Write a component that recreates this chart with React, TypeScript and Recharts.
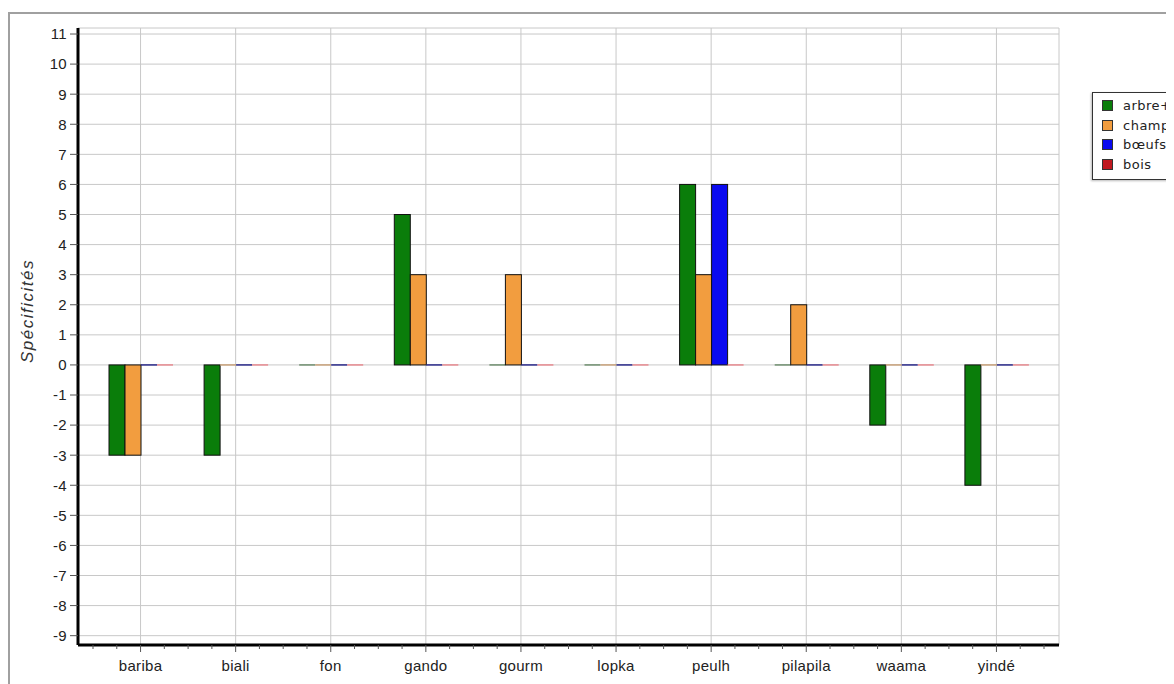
import React from 'react';
import { BarChart, Bar, XAxis, YAxis, CartesianGrid, Legend } from 'recharts';

const categories = ['bariba', 'biali', 'fon', 'gando', 'gourm', 'lopka', 'peulh', 'pilapila', 'waama', 'yindé'];
const arbre = [-3, -3, 0, 5, 0, 0, 6, 0, -2, -4];
const champ = [-3, 0, 0, 3, 3, 0, 3, 2, 0, 0];
const boeufs = [0, 0, 0, 0, 0, 0, 6, 0, 0, 0];
const bois = [0, 0, 0, 0, 0, 0, 0, 0, 0, 0];
const yTicks = [-9, -8, -7, -6, -5, -4, -3, -2, -1, 0, 1, 2, 3, 4, 5, 6, 7, 8, 9, 10, 11];

const series = [
  { key: 'arbre', name: 'arbre+', color: '#0a7d0a', zero: '#6f8f6f', values: arbre },
  { key: 'champ', name: 'champ-', color: '#f29d3f', zero: '#c9a27a', values: champ },
  { key: 'boeufs', name: 'bœufs', color: '#0a0af0', zero: '#2a2a8a', values: boeufs },
  { key: 'bois', name: 'bois', color: '#c0181f', zero: '#e88a90', values: bois },
];

const data = categories.map((c, i) => {
  const row: any = { name: c };
  series.forEach((s) => { row[s.key] = s.values[i]; });
  return row;
});

const makeShape = (color: string, zero: string) => (props: any) => {
  let { x, y, width, height } = props;
  if (!height || Math.abs(height) < 0.5) {
    return <line x1={x} x2={x + width} y1={y} y2={y} stroke={zero} strokeWidth={1.5} />;
  }
  if (height < 0) { y = y + height; height = -height; }
  return <rect x={x} y={y} width={width} height={height} fill={color} stroke="#111" strokeWidth={1} />;
};

const LegendContent = () => (
  <div style={{ border: '1px solid #333', background: '#fff', padding: '3px 0 5px 9px', width: 120, boxShadow: '-1px 1px 2px #bbb' }}>
    {series.map((s) => (
      <div key={s.key} style={{ display: 'flex', alignItems: 'center', height: 19.5 }}>
        <span style={{ display: 'inline-block', width: 9, height: 9, background: s.color, border: '1px solid #333', marginRight: 10 }} />
        <span style={{ fontFamily: '"DejaVu Sans", sans-serif', fontSize: 13, color: '#222', letterSpacing: 0.5, whiteSpace: 'nowrap' }}>{s.name}</span>
      </div>
    ))}
  </div>
);

const YLabel = (props: any) => {
  const vb = props.viewBox || {};
  const x = (vb.x || 0) + 25;
  const y = 303;
  return (
    <text x={x} y={y} transform={`rotate(-90, ${x}, ${y})`} textAnchor="middle" fontFamily='"Liberation Sans", Arial, sans-serif' fontStyle="italic" fontSize={17} letterSpacing={1.5} fill="#333">
      Spécificités
    </text>
  );
};

const tickFont = { fontFamily: '"Liberation Sans", Arial, sans-serif', fontSize: 15, fill: '#222', letterSpacing: 0.3 };

const XTick = (props: any) => {
  const { x, y, payload, index } = props;
  const half = payload && typeof payload.offset === 'number' ? payload.offset : 0;
  const axisY = y - 15; // y includes tickSize + tickMargin
  const minors: number[] = [];
  if (half > 0) {
    if (index === 0) minors.push(x - half);
    minors.push(x - half / 2, x + half / 2, x + half);
  }
  return (
    <g>
      {minors.map((mx, i) => (
        <line key={i} x1={mx} x2={mx} y1={axisY} y2={axisY + 4} stroke="#555" strokeWidth={1} />
      ))}
      <text x={x} y={y} dy="0.71em" textAnchor="middle" {...tickFont}>{payload.value}</text>
    </g>
  );
};

export default function App() {
  return (
    <div style={{ position: 'relative', width: 1166, height: 676, overflow: 'hidden' }}>
      <div style={{ position: 'absolute', left: 0, top: 4, width: 1300, height: 800, border: '2px solid #a0a0a0', boxSizing: 'border-box' }} />
      <div style={{ position: 'absolute', left: 0, top: 0 }}>
        <BarChart width={1166} height={676} data={data} margin={{ top: 20, right: 115, bottom: 9, left: 0 }} barSize={16} barGap={0}>
          <CartesianGrid stroke="#c8c8c8" strokeWidth={1} />
          <XAxis
            dataKey="name"
            height={30}
            padding={{ left: 15, right: 15 }}
            axisLine={{ stroke: '#000', strokeWidth: 3 }}
            tickLine={{ stroke: '#555' }}
            tickSize={7}
            tickMargin={8}
            interval={0}
            tick={<XTick />}
          />
          <XAxis xAxisId="top" dataKey="name" orientation="top" height={0} tick={false} tickLine={false} axisLine={{ stroke: '#000', strokeWidth: 1.5 }} />
          <YAxis
            width={70}
            domain={[-9.31, 11.2]}
            ticks={yTicks}
            allowDataOverflow
            axisLine={{ stroke: '#000', strokeWidth: 3 }}
            tickLine={{ stroke: '#555' }}
            tickSize={8}
            tickMargin={3}
            interval={0}
            tick={tickFont}
            label={<YLabel />}
          />
          <YAxis yAxisId="right" orientation="right" width={0} tick={false} tickLine={false} axisLine={{ stroke: '#000', strokeWidth: 1.5 }} />
          {series.map((s) => (
            <Bar key={s.key} dataKey={s.key} name={s.name} fill={s.color} isAnimationActive={false} shape={makeShape(s.color, s.zero)} />
          ))}
          <Legend layout="vertical" align="center" verticalAlign="middle" wrapperStyle={{ left: 1084, top: 84, width: 130 }} content={<LegendContent />} />
        </BarChart>
      </div>
    </div>
  );
}
